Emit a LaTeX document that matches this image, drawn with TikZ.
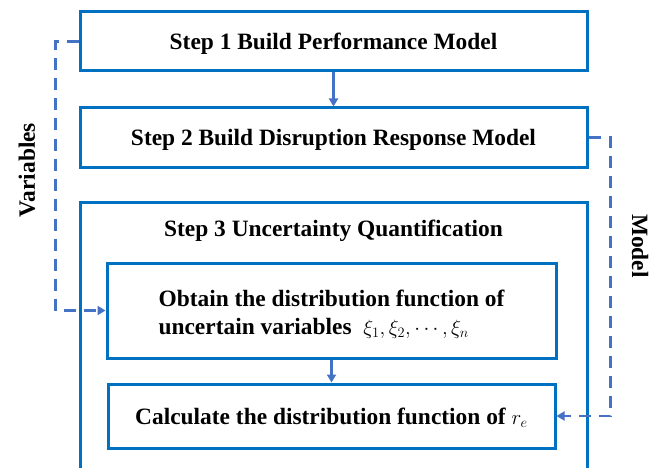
\documentclass[tikz,border=0pt]{standalone}
\usepackage{fontspec}
\setmainfont{Liberation Serif}
\usetikzlibrary{arrows.meta}
\definecolor{boxblue}{RGB}{0,112,192}
\definecolor{linkblue}{RGB}{68,114,196}
\newcommand{\mathsmall}[1]{{\fontsize{20}{24}\selectfont$#1$}}

\begin{document}
\begin{tikzpicture}[
        x=1pt, y=-1pt,
        txt/.style={font=\fontsize{23.4}{28}\selectfont\bfseries},
        oneline/.style={text height=19pt, text depth=2.5pt},
        stepbox/.style={txt, oneline, draw=boxblue, line width=3pt, minimum width=507pt, minimum height=59pt, inner sep=0pt},
        subbox/.style={txt, draw=boxblue, line width=3pt, inner sep=0pt, align=left},
        flow/.style={draw=linkblue, line width=2.6pt, -{Triangle[length=8pt,width=9pt]}},
        link/.style={flow, line width=2.4pt, dash pattern=on 12pt off 8pt},
    ]
    \clip (0,0) rectangle (650,468);
    % steps 1 and 2
    \node[stepbox](s1) at (333.5,41.5) {Step 1 Build Performance Model};
    \node[stepbox](s2) at (333.5,137.5) {Step 2 Build Disruption Response Model};
    % step 3 frame, runs off the bottom
    \draw[boxblue, line width=3pt] (80,520) |- (587,202) -- (587,520);
    \node[txt, oneline](s3) at (333.5,228) {Step 3 Uncertainty Quantification};
    \node[subbox, text height=49pt, text depth=1.5pt, minimum width=449pt, minimum height=95pt](obtain) at (331.5,310.5)
        {Obtain the distribution function of\\uncertain variables\ \ \mathsmall{\xi_1,\xi_2,\cdots,\xi_n}};
    \node[subbox, oneline, minimum width=447pt, minimum height=64pt](calc) at (331.5,416)
        {Calculate the distribution function of \mathsmall{r_e}};
    % flow
    \draw[flow] (s1) -- (s2);
    \draw[flow] (obtain) -- (calc);
    \draw[link] (s1.west) -- ++(-23,0) |- (obtain.west);
    \draw[link] (s2.east) -- ++(22,0) |- (calc.east);
    \node[txt, rotate=90](vars) at (27,170) {Variables};
    \node[txt, rotate=-90](model) at (640,246) {Model};
\end{tikzpicture}
\end{document}
